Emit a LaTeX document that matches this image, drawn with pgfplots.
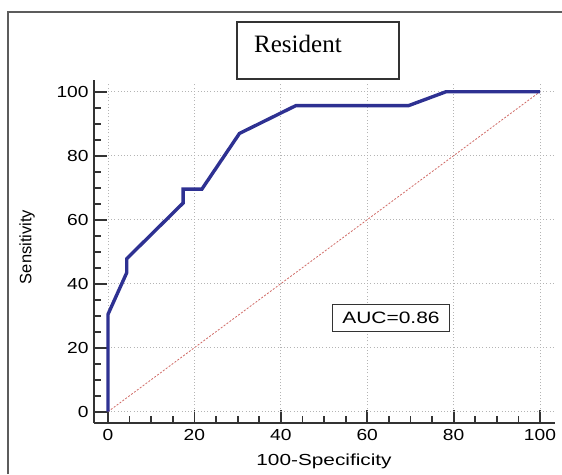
\documentclass[border=0pt]{standalone}
\usepackage{fontspec}
\setmainfont{Liberation Sans}
\newfontfamily\timesfont{Liberation Serif}
\usepackage{pgfplots}
\pgfplotsset{compat=1.18}
\definecolor{RocBlue}{HTML}{2E3192}
\definecolor{DiagRed}{HTML}{C8504B}
\definecolor{AxisDark}{HTML}{333333}
\definecolor{GridGray}{HTML}{B4B4B4}

\begin{document}
\begin{tikzpicture}
\useasboundingbox (0pt,0pt) rectangle (562pt,474pt);
% outer frame, only its left and top edges are in view
\draw[AxisDark!80, line width=1.6pt] (8pt,0pt) -- (8pt,462pt) -- (562pt,462pt);
% title box
\draw[AxisDark, line width=1.3pt] (237pt,395pt) rectangle (399pt,452pt);
\node[anchor=base west, inner sep=0pt, font=\timesfont\fontsize{25}{25}\selectfont] at (254pt,421pt) {Resident};

\begin{axis}[
    at={(94pt,51pt)},
    anchor=south west,
    scale only axis,
    width=461pt,
    height=343pt,
    xmin=-3.24, xmax=103.47,
    ymin=-3.53, ymax=103.66,
    axis x line=bottom,
    axis y line=left,
    axis line style={-, AxisDark, line width=2.6pt},
    xtick={0,20,40,60,80,100},
    ytick={0,20,40,60,80,100},
    minor x tick num=3,
    minor y tick num=3,
    tick align=inside,
    major tick length=13pt,
    minor tick length=7pt,
    every tick/.style={AxisDark, line width=1.8pt},
    /pgf/number format/assume math mode=true,
    tick label style={font=\fontsize{16}{16}\selectfont, xscale=1.2},
    x tick label style={yshift=-3pt},
    y tick label style={xshift=-1pt},
    xlabel={100-Specificity},
    ylabel={Sensitivity},
    xlabel style={font=\fontsize{16}{16}\selectfont, xscale=1.3,
        at={(axis description cs:0.499,-0.111)}, anchor=center},
    ylabel style={font=\fontsize{16.5}{16.5}\selectfont,
        at={(axis description cs:-0.145,0.513)}, anchor=center},
    clip=false,
]
% dotted grid, drawn only over the data range
\pgfplotsinvokeforeach{0,20,40,60,80,100}{
  \draw[GridGray, line width=0.8pt, dash pattern=on 1pt off 2.2pt] (axis cs:#1,0) -- (axis cs:#1,103);
  \draw[GridGray, line width=0.8pt, dash pattern=on 1pt off 2.2pt] (axis cs:0,#1) -- (axis cs:103,#1);
}
% reference diagonal
\addplot[DiagRed!85, line width=0.8pt, dash pattern=on 2pt off 1.6pt] coordinates {(0,0) (100,100)};
% ROC curve
\addplot[RocBlue, line width=3.4pt, line join=miter] coordinates {
    (0,0) (0,30.43) (4.35,43.48) (4.35,47.83) (17.39,65.22) (17.39,69.57)
    (21.74,69.57) (30.43,86.96) (43.48,95.65) (69.57,95.65) (78.26,100) (100,100)
};
\node[draw=AxisDark, line width=1.2pt, fill=white, minimum width=117pt, minimum height=27pt,
      inner sep=0pt] at (axis cs:65.5,29.3) {};
\node[font=\fontsize{16.5}{16.5}\selectfont, xscale=1.27] at (axis cs:65.5,29.3) {AUC=0.86};
\end{axis}
\end{tikzpicture}
\end{document}
